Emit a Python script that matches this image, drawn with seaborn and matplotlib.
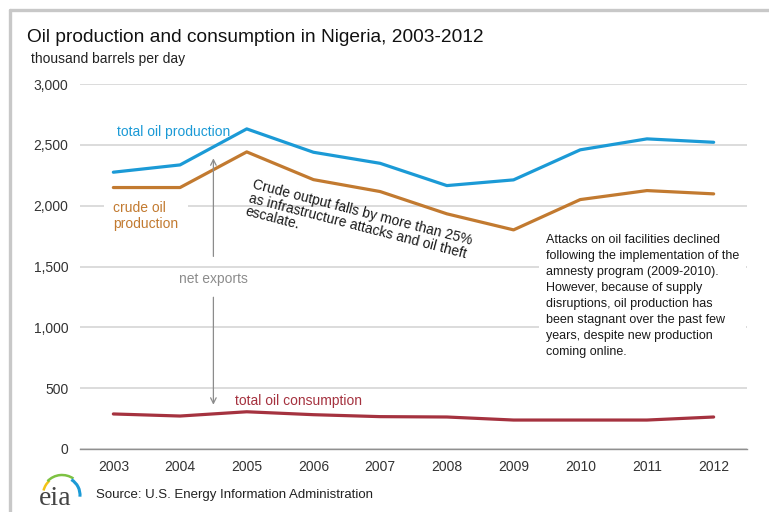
import numpy as np
import pandas as pd
import seaborn as sns
import matplotlib.pyplot as plt
from matplotlib.lines import Line2D
from matplotlib.patches import Arc

years = [2003, 2004, 2005, 2006, 2007, 2008, 2009, 2010, 2011, 2012]
total_production = [2275, 2335, 2631, 2439, 2348, 2165, 2212, 2459, 2549, 2521]
crude_production = [2149, 2149, 2442, 2214, 2116, 1933, 1801, 2050, 2124, 2097]
total_consumption = [288, 271, 306, 282, 266, 263, 238, 238, 238, 263]

series_names = ['total oil production', 'crude oil production', 'total oil consumption']
series_colors = ['#1b9ad6', '#c27a30', '#a5323f']

df = pd.DataFrame({
    'year': years * 3,
    'value': total_production + crude_production + total_consumption,
    'series': [s for s in series_names for _ in years],
})

sns.set_style('white')
plt.rcParams['font.family'] = ['Liberation Sans', 'DejaVu Sans']

fig = plt.figure(figsize=(7.69, 5.12), dpi=100)
ax = fig.add_axes([80 / 769, 63 / 512, 667 / 769, 365 / 512])
ax.set_axisbelow(True)

sns.lineplot(data=df, x='year', y='value', hue='series', hue_order=series_names,
             palette=series_colors, linewidth=2.3, legend=False, ax=ax, zorder=3)

ax.set_xlim(2002.5, 2012.5)
ax.set_ylim(0, 3000)
ax.set_yticks(range(0, 3001, 500))
ax.set_yticklabels([f'{v:,}' for v in range(0, 3001, 500)])
ax.set_xticks(years)
ax.set_xticks(np.arange(2002.5, 2013, 1), minor=True)
ax.tick_params(axis='x', which='major', length=0, pad=8, labelsize=10, colors='#333333')
ax.tick_params(axis='x', which='minor', length=4, width=1, color='#909090', direction='out')
ax.tick_params(axis='y', length=0, pad=8.5, labelsize=10, colors='#333333')
ax.set_xlabel('')
ax.set_ylabel('')
ax.grid(axis='y', color='#d9d9d9', linewidth=1.3)
for side in ['top', 'right', 'left']:
    ax.spines[side].set_visible(False)
ax.spines['bottom'].set_color('#909090')
ax.spines['bottom'].set_linewidth(1.0)
ax.spines['bottom'].set_zorder(4)

# annotations
ax.text(2003.06, 2609, 'total oil production', color=series_colors[0], fontsize=10,
        ha='left', va='center', zorder=5)
ax.text(2003.0, 1915, 'crude oil\nproduction', color=series_colors[1], fontsize=10,
        ha='left', va='center', linespacing=1.18, zorder=2,
        bbox=dict(facecolor='white', edgecolor='none', pad=7))
ax.text(2004.83, 398, 'total oil consumption', color=series_colors[2], fontsize=10,
        ha='left', va='center', zorder=5)

ax.text(2004.5, 1401, 'net exports', color='#8c8c8c', fontsize=10, ha='center', va='center', zorder=5)
ax.annotate('', xy=(2004.5, 2412), xytext=(2004.5, 1560),
            arrowprops=dict(arrowstyle='->', color='#8c8c8c', lw=0.9), zorder=5)
ax.annotate('', xy=(2004.5, 341), xytext=(2004.5, 1270),
            arrowprops=dict(arrowstyle='->', color='#8c8c8c', lw=0.9), zorder=5)

ax.text(2005.11, 2228, 'Crude output falls by more than 25%\nas infrastructure attacks and oil theft\nescalate.',
        color='#1a1a1a', fontsize=10, rotation=-14.5, rotation_mode='anchor',
        ha='left', va='top', linespacing=0.95, zorder=5)

ax.text(2009.49, 1765, 'Attacks on oil facilities declined\nfollowing the implementation of the\n'
        'amnesty program (2009-2010).\nHowever, because of supply\ndisruptions, oil production has\n'
        'been stagnant over the past few\nyears, despite new production\ncoming online.',
        color='#1a1a1a', fontsize=9.0, ha='left', va='top', linespacing=1.44, zorder=2,
        bbox=dict(facecolor='white', edgecolor='none', pad=5))

# titles
fig.text(27 / 769, 1 - 38 / 512, 'Oil production and consumption in Nigeria, 2003-2012',
         fontsize=13.8, color='#111111', ha='left', va='center')
fig.text(31 / 769, 1 - 59 / 512, 'thousand barrels per day', fontsize=10, color='#222222',
         ha='left', va='center')
fig.text(96 / 769, 1 - 495 / 512, 'Source: U.S. Energy Information Administration',
         fontsize=9.5, color='#222222', ha='left', va='center')

# eia logo
fig.text(55 / 769, 1 - 505 / 512, 'eia', fontsize=20, family='Liberation Serif',
         color='#444444', ha='center', va='baseline')
logo_centre = (62 / 769, 1 - 495 / 512)
for r, c, lw, t1, t2 in [(19, '#f2c317', 1.8, 120, 160), (20, '#7dc242', 1.8, 65, 125),
                         (18, '#1b9ad6', 2.2, -8, 68)]:
    fig.add_artist(Arc(logo_centre, 2 * r / 769, 2 * r / 512, theta1=t1, theta2=t2,
                       transform=fig.transFigure, color=c, lw=lw))

# outer frame
fig.add_artist(Line2D([9.5 / 769, 1], [1 - 9.5 / 512] * 2, transform=fig.transFigure,
                      color='#c8c8c8', lw=2.4))
fig.add_artist(Line2D([9.5 / 769] * 2, [0, 1 - 9.5 / 512], transform=fig.transFigure,
                      color='#c8c8c8', lw=2.4))

fig.savefig('out.png', dpi=100)
